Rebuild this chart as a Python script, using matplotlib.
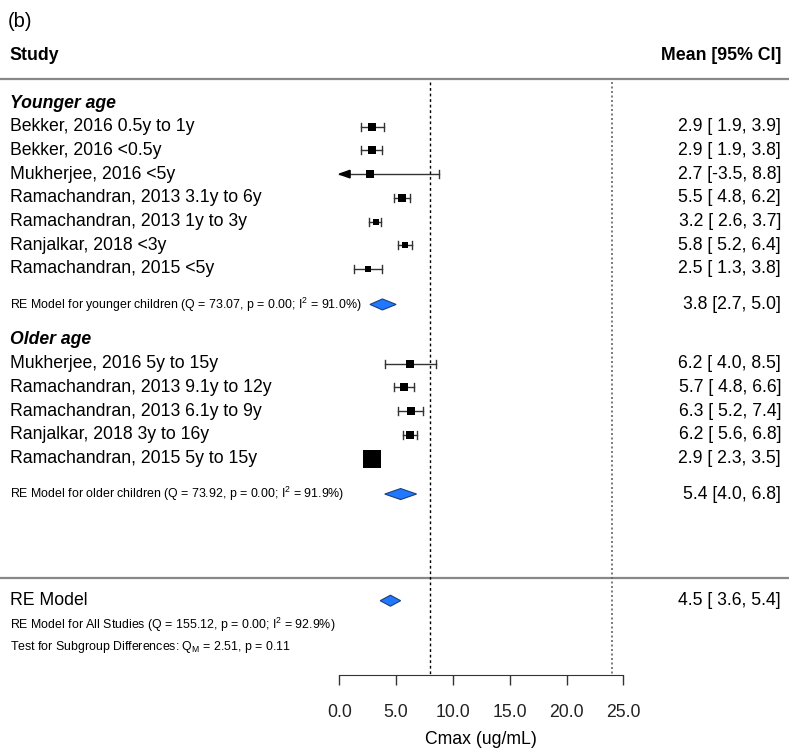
import numpy as np
import matplotlib
matplotlib.use('Agg')
from matplotlib import pyplot as plt
from matplotlib.patches import Polygon

plt.rcParams['font.family'] = ['Liberation Sans', 'DejaVu Sans']
plt.rcParams['mathtext.fontset'] = 'custom'
plt.rcParams['mathtext.rm'] = 'Liberation Sans'
plt.rcParams['mathtext.it'] = 'Liberation Sans:italic'

# study level estimates
young_names = ['Bekker, 2016 0.5y to 1y', 'Bekker, 2016 <0.5y', 'Mukherjee, 2016 <5y',
               'Ramachandran, 2013 3.1y to 6y', 'Ramachandran, 2013 1y to 3y',
               'Ranjalkar, 2018 <3y', 'Ramachandran, 2015 <5y']
young_mean = [2.9, 2.9, 2.7, 5.5, 3.2, 5.8, 2.5]
young_lo = [1.9, 1.9, -3.5, 4.8, 2.6, 5.2, 1.3]
young_hi = [3.9, 3.8, 8.8, 6.2, 3.7, 6.4, 3.8]
young_w = [4.9, 4.9, 6.4, 6.4, 3.6, 2.5, 2.5]

old_names = ['Mukherjee, 2016 5y to 15y', 'Ramachandran, 2013 9.1y to 12y',
             'Ramachandran, 2013 6.1y to 9y', 'Ranjalkar, 2018 3y to 16y',
             'Ramachandran, 2015 5y to 15y']
old_mean = [6.2, 5.7, 6.3, 6.2, 2.9]
old_lo = [4.0, 4.8, 5.2, 5.6, 2.3]
old_hi = [8.5, 6.6, 7.4, 6.8, 3.5]
old_w = [6.4, 4.9, 4.9, 6.4, 32.4]

# pooled estimates: younger, older, all
pooled_mean = [3.8, 5.4, 4.5]
pooled_lo = [2.7, 4.0, 3.6]
pooled_hi = [5.0, 6.8, 5.4]

ref_lines = [8, 24]
xticks = [0, 5, 10, 15, 20, 25]

# layout: one unit of x = 11.36 px, one row = 23.7 px
px = 11.36
row = 23.7
fig = plt.figure(figsize=(7.89, 7.51), dpi=100)
ax = fig.add_axes([0, 0, 1, 1])
x0 = 339.3
ax.set_xlim(-x0 / px, (789 - x0) / px)
ax.set_ylim((751 - 103) / row, -103 / row)
for s in ['top', 'right', 'left']:
    ax.spines[s].set_visible(False)
ax.set_yticks([])

xl = -29.0            # left text column
xr = (781 - x0) / px  # right text column
fs = 12.7
small = 8.9

young_rows = np.arange(1, 8)
old_rows = np.arange(11, 16)
pooled_rows = [8.5, 16.5, 21]


def study(y, m, lo, hi, w, name):
    ax.text(xl, y, name, fontsize=fs, va='center', ha='left')
    ax.text(xr, y, f'{m:.1f} [{lo:4.1f}, {hi:.1f}]'.replace(' -', '-'),
            fontsize=fs, va='center', ha='right')
    cap = 4 / row
    left = max(lo, 0)
    ax.plot([left, hi], [y, y], color='#333333', lw=1, zorder=2)
    ax.plot([hi, hi], [y - cap, y + cap], color='#333333', lw=1, zorder=2)
    if lo < 0:
        ax.add_patch(Polygon([[0, y], [0.95, y - 3.8 / row], [0.95, y + 3.8 / row]],
                             closed=True, color='black', zorder=3))
    else:
        ax.plot([lo, lo], [y - cap, y + cap], color='#333333', lw=1, zorder=2)
    side = 3.2 * np.sqrt(w) * 0.72
    ax.scatter([m], [y], marker='s', s=side ** 2, color='black', zorder=4, linewidths=0)


for y, m, lo, hi, w, n in zip(young_rows, young_mean, young_lo, young_hi, young_w, young_names):
    study(y, m, lo, hi, w, n)
for y, m, lo, hi, w, n in zip(old_rows, old_mean, old_lo, old_hi, old_w, old_names):
    study(y, m, lo, hi, w, n)

# summary diamonds
hh = 5.5 / row
for y, m, lo, hi in zip(pooled_rows, pooled_mean, pooled_lo, pooled_hi):
    ax.add_patch(Polygon([[lo, y], [m, y - hh], [hi, y], [m, y + hh]], closed=True,
                         facecolor='#1f78ff', edgecolor='#1b3f7a', lw=0.8, zorder=4))

ax.text(xr, pooled_rows[0], f'{pooled_mean[0]:.1f} [{pooled_lo[0]:.1f}, {pooled_hi[0]:.1f}]',
        fontsize=fs, va='center', ha='right')
ax.text(xr, pooled_rows[1], f'{pooled_mean[1]:.1f} [{pooled_lo[1]:.1f}, {pooled_hi[1]:.1f}]',
        fontsize=fs, va='center', ha='right')
ax.text(xr, pooled_rows[2], f'{pooled_mean[2]:.1f} [{pooled_lo[2]:4.1f}, {pooled_hi[2]:.1f}]',
        fontsize=fs, va='center', ha='right')

ax.text(xl, pooled_rows[0], 'RE Model for younger children (Q = 73.07, p = 0.00; I$^2$ = 91.0%)',
        fontsize=small, va='center')
ax.text(xl, pooled_rows[1], 'RE Model for older children (Q = 73.92, p = 0.00; I$^2$ = 91.9%)',
        fontsize=small, va='center')
ax.text(xl, 21, 'RE Model', fontsize=fs, va='center')
ax.text(xl, 22, 'RE Model for All Studies (Q = 155.12, p = 0.00; I$^2$ = 92.9%)',
        fontsize=small, va='center')
ax.text(xl, 22.95, 'Test for Subgroup Differences: Q$_\\mathrm{M}$ = 2.51, p = 0.11',
        fontsize=small, va='center')

# headings
ax.text(xl - 0.2, -3.43, '(b)', fontsize=14.5, va='center')
ax.text(xl, -2.02, 'Study', fontsize=12.8, fontweight='bold', va='center')
ax.text(xr, -2.02, 'Mean [95% CI]', fontsize=12.8, fontweight='bold', va='center', ha='right')
ax.text(xl, 0, 'Younger age', fontsize=fs, fontweight='bold', style='italic', va='center')
ax.text(xl, 10, 'Older age', fontsize=fs, fontweight='bold', style='italic', va='center')

ax.axhline(-1, color='#888888', lw=1.6)
ax.axhline(20.05, color='#888888', lw=1.6)

axis_y = 24.15
ax.plot([ref_lines[0]] * 2, [-0.9, axis_y], color='black', lw=1, ls=(0, (2, 2)))
ax.plot([ref_lines[1]] * 2, [-0.9, axis_y], color='#666666', lw=1.2, ls=(0, (1.2, 1.5)))

# x axis
ax.spines['bottom'].set_position(('data', axis_y))
ax.spines['bottom'].set_bounds(0, 25)
ax.spines['bottom'].set_color('#333333')
ax.set_xticks(xticks)
ax.set_xticklabels([f'{t:.1f}' for t in xticks])
ax.tick_params(axis='x', direction='out', length=7.5, width=1, color='#333333',
               labelsize=12.7, pad=13, labelcolor='#222222')
ax.text(12.5, (740 - 103) / row, 'Cmax (ug/mL)', fontsize=12.7, ha='center', va='center')

fig.savefig('out.png', dpi=100)
